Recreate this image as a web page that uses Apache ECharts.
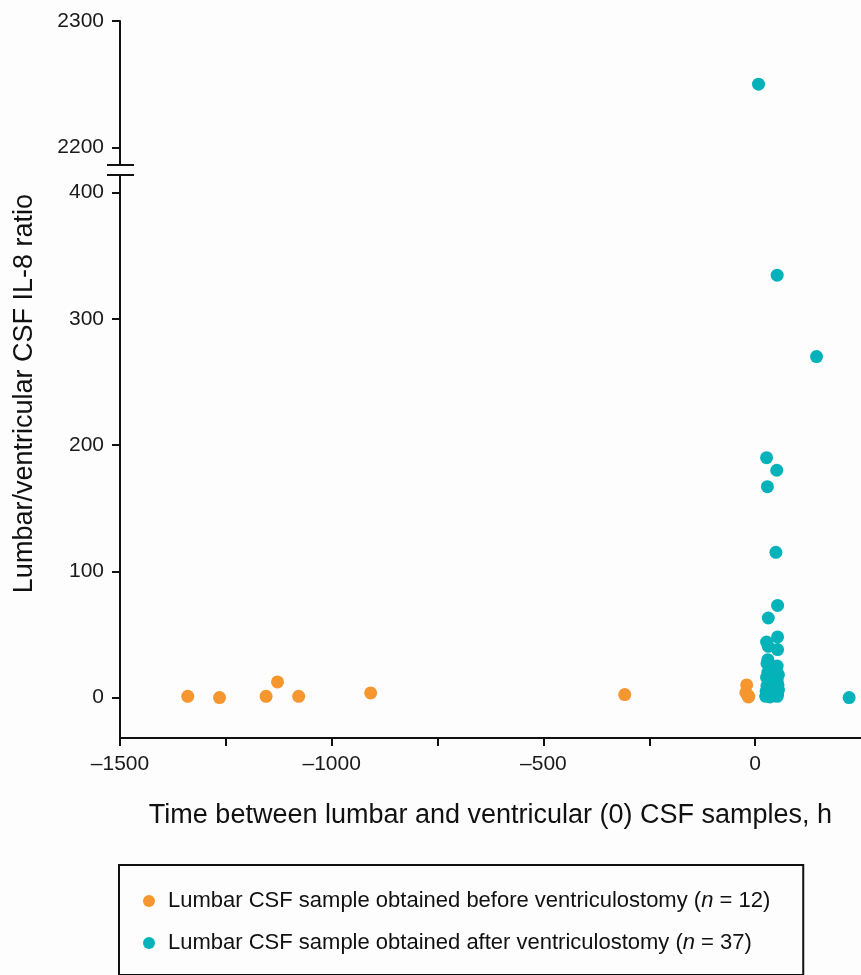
<!DOCTYPE html>
<html>
<head>
<meta charset="utf-8">
<script src="https://cdn.jsdelivr.net/npm/echarts@6/dist/echarts.min.js"></script>
<style>
  html, body { margin: 0; padding: 0; background: #fdfdfe; }
  #chart { width: 861px; height: 975px; }
</style>
</head>
<body>
<div id="chart"></div>
<script>
// ---- Data (time in h, lumbar/ventricular IL-8 ratio) ----
const beforeTime  = [-1340, -1265, -1155, -1128, -1078, -908, -308, -20, -18, -15, -22, -16];
const beforeRatio = [1, 0, 1, 12.4, 1, 3.7, 2.4, 10, 2, 1, 4, 0.5];

const afterTime  = [8, 52, 145, 27, 51, 29, 49, 53, 31, 53, 27, 31, 53, 222,
                    30, 52, 28, 50, 30, 55, 27, 52, 31, 54, 28, 48, 32, 55, 26, 50, 30, 53, 28, 45, 25, 52, 35];
const afterRatio = [2250, 334.5, 270, 190, 180, 167, 115, 73, 63, 48, 44, 40.6, 38, 0,
                    30, 25, 27, 22, 20, 18, 16, 14, 12, 10, 9, 8, 7, 6, 5, 4, 3, 2.5, 2, 1.5, 1, 1, 0.5];

const xTicksLabeled = [-1500, -1000, -500, 0];
const yLowerTicks = [0, 100, 200, 300, 400];
const yUpperTicks = [2200, 2300];

const nameBefore = 'Lumbar CSF sample obtained before ventriculostomy (n = 12)';
const nameAfter  = 'Lumbar CSF sample obtained after ventriculostomy (n = 37)';

const ORANGE = '#F5962F';
const CYAN = '#04B3B9';
const FONT = '"Liberation Sans", Arial, sans-serif';

function pairs(xs, ys, filter) {
  const out = [];
  for (let i = 0; i < xs.length; i++) if (filter(ys[i])) out.push([xs[i], ys[i]]);
  return out;
}

const chart = echarts.init(document.getElementById('chart'), null, { renderer: 'canvas' });

const axisLine = { show: true, onZero: false, lineStyle: { color: '#111', width: 2 } };
const axisTick = { show: true, inside: false, length: 8, lineStyle: { color: '#111', width: 2 } };
const labelStyle = { color: '#1a1a1a', fontSize: 21, fontFamily: FONT };

const option = {
  backgroundColor: '#fdfdfe',
  animation: false,
  textStyle: { fontFamily: FONT },
  grid: [
    { left: 120, right: -2, top: 176, height: 562 },
    { left: 120, right: -2, top: 21, height: 144 }
  ],
  xAxis: [
    {
      type: 'value', gridIndex: 0, min: -1500, max: 250, interval: 250,
      axisLine: axisLine, axisTick: axisTick, splitLine: { show: false },
      axisLabel: Object.assign({}, labelStyle, {
        margin: 16,
        showMaxLabel: false,
        formatter: v => xTicksLabeled.includes(v) ? String(v).replace('-', '\u2013') : ''
      }),
      name: 'Time between lumbar and ventricular (0) CSF samples, h',
      nameLocation: 'middle', nameGap: 64,
      nameTextStyle: { color: '#111', fontSize: 27, fontFamily: FONT }
    },
    {
      type: 'value', gridIndex: 1, min: -1500, max: 250, interval: 250, show: false
    }
  ],
  yAxis: [
    {
      type: 'value', gridIndex: 0, min: -32, max: 413,
      axisLine: axisLine,
      axisTick: Object.assign({}, axisTick, { customValues: yLowerTicks }),
      axisLabel: Object.assign({}, labelStyle, { margin: 16, customValues: yLowerTicks, formatter: v => String(v) }),
      splitLine: { show: false }
    },
    {
      type: 'value', gridIndex: 1, min: 2186, max: 2300,
      axisLine: axisLine,
      axisTick: Object.assign({}, axisTick, { customValues: yUpperTicks }),
      axisLabel: Object.assign({}, labelStyle, { margin: 16, customValues: yUpperTicks, formatter: v => String(v) }),
      splitLine: { show: false }
    }
  ],
  legend: {
    orient: 'vertical',
    left: 119, top: 865,
    padding: [25, 33, 21, 24],
    itemGap: 20,
    itemWidth: 12, itemHeight: 12,
    icon: 'circle',
    borderColor: '#111', borderWidth: 2,
    data: [nameBefore, nameAfter],
    formatter: n => n.replace('(n', '({i|n}'),
    textStyle: {
      color: '#111', fontSize: 22, fontFamily: FONT, padding: [0, 0, 0, 8],
      rich: { i: { fontStyle: 'italic', fontSize: 22, fontFamily: FONT, color: '#111' } }
    }
  },
  graphic: [
    {
      type: 'text', left: 11, top: 194, rotation: Math.PI / 2,
      style: { text: 'Lumbar/ventricular CSF IL-8 ratio', fill: '#111', fontSize: 27, fontFamily: FONT }
    },
    { type: 'line', shape: { x1: 107, y1: 165, x2: 134, y2: 165 }, style: { stroke: '#111', lineWidth: 2 } },
    { type: 'line', shape: { x1: 107, y1: 175, x2: 134, y2: 175 }, style: { stroke: '#111', lineWidth: 2 } }
  ],
  series: [
    {
      name: nameBefore, type: 'scatter', xAxisIndex: 0, yAxisIndex: 0,
      symbolSize: 13, itemStyle: { color: ORANGE, opacity: 1 },
      data: pairs(beforeTime, beforeRatio, y => y <= 413)
    },
    {
      name: nameAfter, type: 'scatter', xAxisIndex: 0, yAxisIndex: 0,
      symbolSize: 13, itemStyle: { color: CYAN, opacity: 1 },
      data: pairs(afterTime, afterRatio, y => y <= 413)
    },
    {
      name: nameAfter, type: 'scatter', xAxisIndex: 1, yAxisIndex: 1,
      symbolSize: 13, itemStyle: { color: CYAN, opacity: 1 },
      data: pairs(afterTime, afterRatio, y => y >= 2186)
    }
  ]
};

chart.setOption(option);
</script>
</body>
</html>
